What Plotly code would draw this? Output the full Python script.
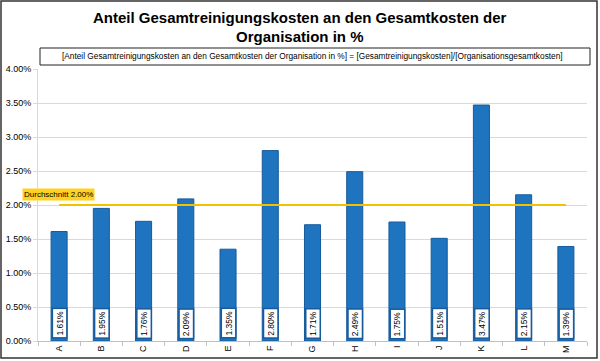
import plotly.graph_objects as go

categories = ["A", "B", "C", "D", "E", "F", "G", "H", "I", "J", "K", "L", "M"]
values = [0.0161, 0.0195, 0.0176, 0.0209, 0.0135, 0.0280, 0.0171, 0.0249, 0.0175, 0.0151, 0.0347, 0.0215, 0.0139]
average = 0.0200
avg_label = "Durchschnitt 2.00%"
title_lines = ["Anteil Gesamtreinigungskosten an den Gesamtkosten der", "Organisation in %"]
formula_text = "[Anteil Gesamtreinigungskosten an den Gesamtkosten der Organisation in %] = [Gesamtreinigungskosten]/[Organisationsgesamtkosten]"

W, H = 600, 361
ml, mr, mt, mb = 38, 13, 69, 20
pw, ph = W - ml - mr, H - mt - mb

def px(x):
    return (x - ml) / pw

def py(y):
    return (H - mb - y) / ph

FONT = "Liberation Sans, Arial, sans-serif"

fig = go.Figure()
fig.add_trace(go.Bar(
    x=categories, y=values, width=0.38,
    marker=dict(color="#1f74c0", line=dict(color="#175b9c", width=1)),
    hoverinfo="skip", showlegend=False,
))
fig.add_trace(go.Scatter(
    x=categories, y=[average] * len(categories), mode="lines",
    line=dict(color="#f2c200", width=2), hoverinfo="skip", showlegend=False,
))

annotations = []
for c, v in zip(categories, values):
    annotations.append(dict(
        x=c, y=0, xref="x", yref="y", text=f"{v*100:.2f}%", showarrow=False,
        textangle=-90, yanchor="bottom", xanchor="center", yshift=2,
        font=dict(family=FONT, size=8.5, color="#000000"),
        bgcolor="#ffffff", bordercolor="#175b9c", borderwidth=1.5, borderpad=1.5,
    ))
annotations.append(dict(
    x=px(22), y=average, xref="paper", yref="y", text=avg_label, showarrow=False,
    xanchor="left", yanchor="bottom", yshift=4,
    font=dict(family=FONT, size=8, color="#000000"),
    bgcolor="#ffd21f", borderpad=1,
))
annotations.append(dict(
    x=px(312), y=py(56), xref="paper", yref="paper", text=formula_text, showarrow=False,
    xanchor="center", yanchor="middle",
    font=dict(family=FONT, size=8.3, color="#000000"),
))
for line_text, yc in zip(title_lines, [17, 37]):
    annotations.append(dict(
        x=px(300), y=py(yc), xref="paper", yref="paper", text=f"<b>{line_text}</b>",
        showarrow=False, xanchor="center", yanchor="middle",
        font=dict(family=FONT, size=15, color="#000000"),
    ))

shapes = [
    dict(type="rect", xref="paper", yref="paper", x0=px(40), x1=px(590), y0=py(65), y1=py(48),
         line=dict(color="#222222", width=1), fillcolor="rgba(0,0,0,0)", layer="above"),
    dict(type="rect", xref="paper", yref="paper", x0=px(1), x1=px(597), y0=py(358), y1=py(1),
         line=dict(color="#333333", width=1.5), fillcolor="rgba(0,0,0,0)", layer="above"),
]

fig.update_layout(
    width=W, height=H,
    margin=dict(l=ml, r=mr, t=mt, b=mb, autoexpand=False),
    paper_bgcolor="#ffffff", plot_bgcolor="#ffffff",
    annotations=annotations, shapes=shapes,
    xaxis=dict(type="category", tickangle=-90, showgrid=False, automargin=False,
               showline=True, linecolor="#bfbfbf", linewidth=1,
               ticks="outside", tickson="boundaries", ticklen=4, tickcolor="#bfbfbf",
               tickfont=dict(family=FONT, size=9, color="#000000")),
    yaxis=dict(range=[0, 0.04], dtick=0.005, tickformat=".2%", automargin=False,
               showgrid=True, gridcolor="#d9d9d9", gridwidth=1,
               showline=True, linecolor="#d9d9d9", zeroline=False,
               ticks="outside", ticklen=4, tickcolor="#d9d9d9",
               tickfont=dict(family=FONT, size=9, color="#000000")),
)

fig.write_html("out.html", config={"displayModeBar": False},
               post_script="document.body.style.margin='0';document.body.style.padding='0';")
